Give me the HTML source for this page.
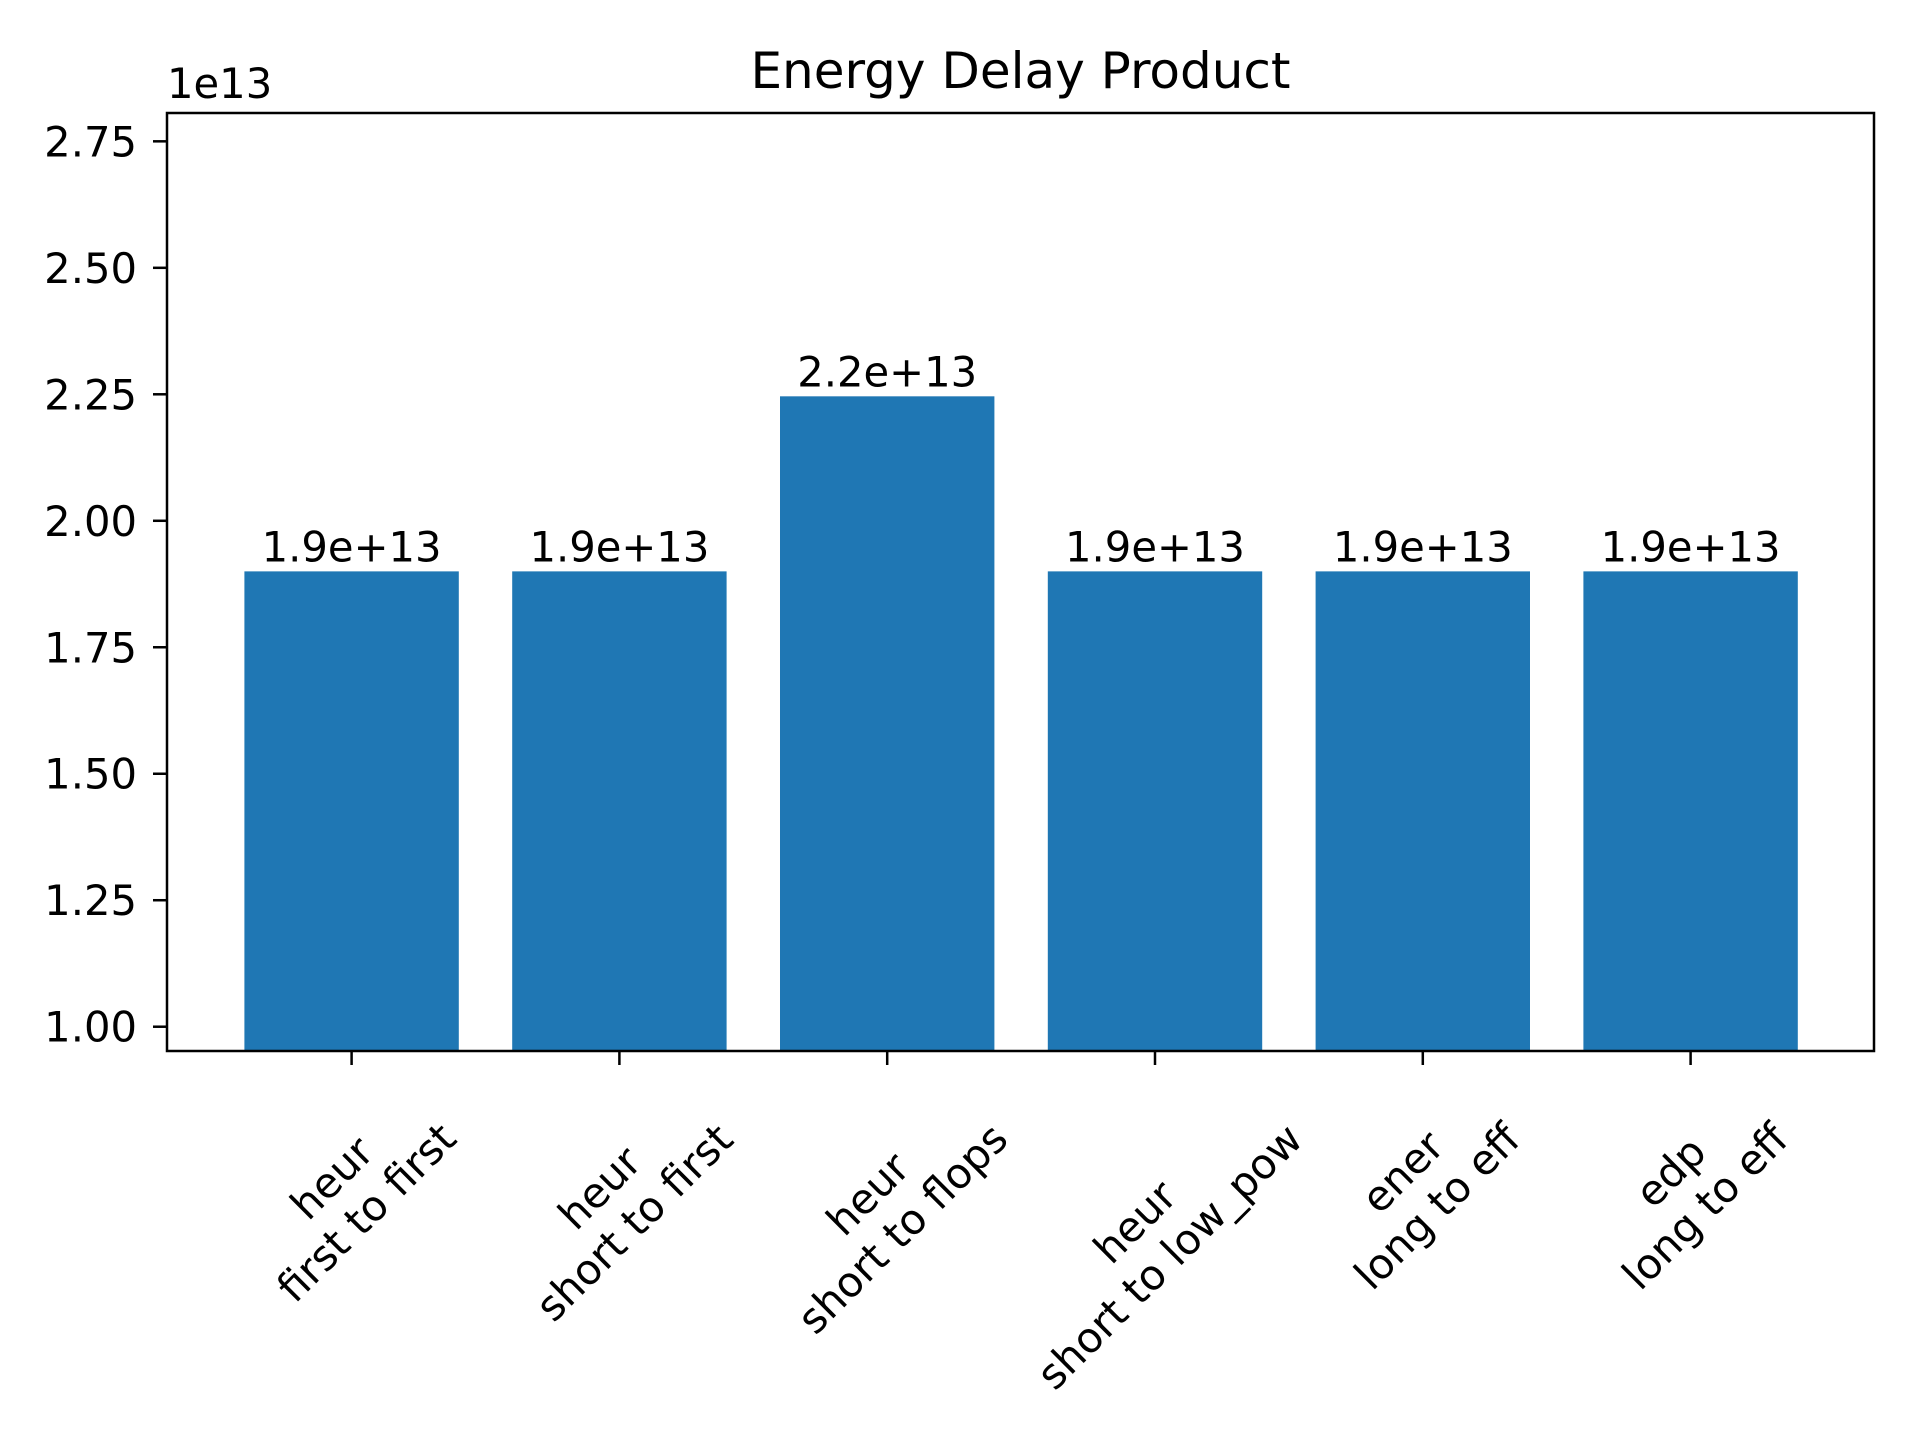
<!DOCTYPE html>
<html><head><meta charset="utf-8">
<style>
html,body{margin:0;padding:0;background:#fff;}
#wrap{position:relative;width:1920px;height:1440px;overflow:hidden;font-family:"DejaVu Sans","Liberation Sans",sans-serif;}
svg text{font-family:"DejaVu Sans","Liberation Sans",sans-serif;}
.xl{position:absolute;white-space:pre;text-align:center;font-size:41.7px;line-height:1.17;color:#000;transform-origin:50% 50%;}
</style></head>
<body>
<div id="wrap">
<svg id="chart" width="1920" height="1440"></svg>
</div>
<script>
const categories = ["heur\nfirst to first","heur\nshort to first","heur\nshort to flops","heur\nshort to low_pow","ener\nlong to eff","edp\nlong to eff"];
const values = [1.9e13,1.9e13,2.246e13,1.9e13,1.9e13,1.9e13];
const yTicks = [1.00,1.25,1.50,1.75,2.00,2.25,2.50,2.75];
const yTickLabels = ["1.00","1.25","1.50","1.75","2.00","2.25","2.50","2.75"];

const L=167,R=1874,T=113,B=1051;
const yMin=0.952,yMax=2.806,scale=1e13;
const NS="http://www.w3.org/2000/svg";
const svg=document.getElementById('chart');
const first=351.6, spacing=267.8, bw=214.4;
function xPos(i){return first+i*spacing;}
function yPos(v){return B-(v/scale-yMin)/(yMax-yMin)*(B-T);}
function mk(tag,attrs){const e=document.createElementNS(NS,tag);for(const k in attrs)e.setAttribute(k,attrs[k]);svg.appendChild(e);return e;}

values.forEach((v,i)=>{
  const y=yPos(v);
  const r=mk('rect',{x:xPos(i)-bw/2,y:y,width:bw,height:B-y,fill:'#1f77b4'});
  
  
  const t=mk('text',{x:xPos(i),y:y-10,'font-size':41.7,'text-anchor':'middle',fill:'#000'});
  t.textContent=(v/1e13).toFixed(1)+"e+13";
  
  
  const tk=mk('line',{x1:xPos(i),x2:xPos(i),y1:B,y2:B+14,stroke:'#000','stroke-width':2.5});
  
  
});
yTicks.forEach((v,i)=>{
  const y=yPos(v*scale);
  const tk=mk('line',{x1:L-14,x2:L,y1:y,y2:y,stroke:'#000','stroke-width':2.5});
  
  
  const t=mk('text',{x:L-30,y:y+15,'font-size':41.7,'text-anchor':'end',fill:'#000'});
  t.textContent=yTickLabels[i];
  
  
});
const fr=mk('rect',{x:L,y:T,width:R-L,height:B-T,fill:'none',stroke:'#000','stroke-width':2.5});


const ti=mk('text',{x:(L+R)/2,y:88,'font-size':50,'text-anchor':'middle',fill:'#000'});
ti.textContent="Energy Delay Product";


const off=mk('text',{x:L,y:98,'font-size':41.7,fill:'#000'});
off.textContent="1e13";



const wrap=document.getElementById('wrap');
categories.forEach((c,i)=>{
  const d=document.createElement('div');
  d.className='xl';
  d.textContent=c;
  
  
  wrap.appendChild(d);
  const w=d.offsetWidth,h=d.offsetHeight;
  const bh=(w+h)/Math.SQRT2;
  const cx=xPos(i)-2, cy=B+29+bh/2;
  d.style.left=(cx-w/2)+'px';
  d.style.top=(cy-h/2)+'px';
  d.style.transform='rotate(-45deg)';
});
</script>
</body></html>
